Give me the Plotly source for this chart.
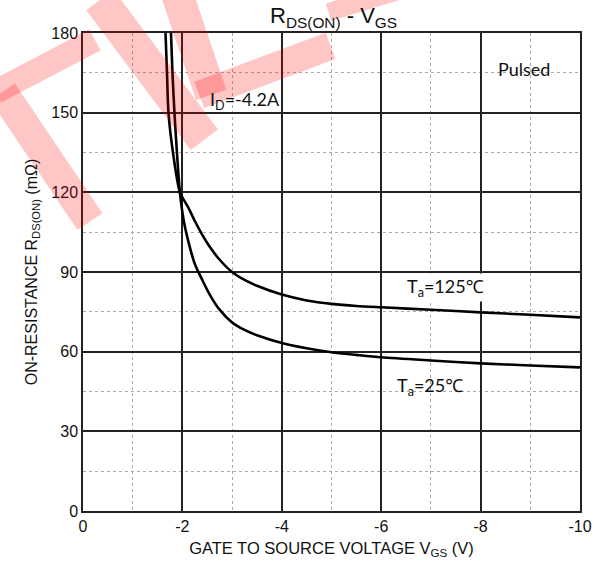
import plotly.graph_objects as go

# ---------------- data ----------------
vgs_25 = [-1.77, -1.80, -1.84, -1.89, -1.95, -2.03, -2.14, -2.25, -2.4, -2.55, -2.74, -3.0,
          -3.25, -3.5, -4.0, -4.5, -5.0, -5.5, -6.0, -7.0, -8.0, -9.0, -10.0]
r_25 = [180, 165, 150, 135, 120, 109, 100, 93, 87, 81.5, 76, 71,
        68.2, 66.2, 63.3, 61.3, 59.8, 58.8, 57.9, 56.7, 55.6, 54.8, 54.1]

vgs_125 = [-1.66, -1.69, -1.72, -1.81, -1.95, -2.05, -2.14, -2.25, -2.4, -2.55, -2.74, -3.0,
           -3.25, -3.5, -4.0, -4.5, -5.0, -5.5, -6.0, -7.0, -8.0, -9.0, -10.0]
r_125 = [180, 165, 150, 135, 120, 116.5, 113.5, 109.2, 104, 99.5, 94.8, 90,
         87, 84.8, 81.5, 79.3, 78, 77.2, 76.7, 75.8, 74.8, 73.9, 72.9]

x_ticks = [0, -2, -4, -6, -8, -10]
y_ticks = [0, 30, 60, 90, 120, 150, 180]

# ---------------- figure ----------------
L, R, T, B = 83, 21, 33, 55
W, H = 604, 567
PW, PH = W - L - R, H - T - B

fig = go.Figure()
for xs, ys in ((vgs_25, r_25), (vgs_125, r_125)):
    fig.add_trace(go.Scatter(x=xs, y=ys, mode="lines",
                             line=dict(color="black", width=2.6, shape="spline", smoothing=0.8),
                             showlegend=False, hoverinfo="skip"))

axis_font = dict(family="Liberation Sans, Arial, sans-serif", size=16, color="#111")
fig.update_xaxes(range=[0, -10], tickvals=x_ticks, ticktext=[str(v) for v in x_ticks],
                 showgrid=True, gridcolor="#222", gridwidth=1.5,
                 minor=dict(dtick=1, showgrid=True, gridcolor="#aaa", griddash="dot", gridwidth=1),
                 showline=True, linecolor="#222", linewidth=1.5, mirror=True,
                 zeroline=False, ticks="", tickfont=axis_font,
                 title=dict(text="GATE TO SOURCE VOLTAGE V<sub>GS</sub> (V)",
                            font=dict(family="Liberation Sans, Arial, sans-serif", size=16.5, color="#111"),
                            standoff=8))
fig.update_yaxes(range=[0, 180], tickvals=y_ticks,
                 showgrid=True, gridcolor="#222", gridwidth=1.5,
                 minor=dict(dtick=15, showgrid=True, gridcolor="#aaa", griddash="dot", gridwidth=1),
                 showline=True, linecolor="#222", linewidth=1.5, mirror=True,
                 zeroline=False, ticks="", tickfont=axis_font,
                 title=dict(text="ON-RESISTANCE R<sub>DS(ON)</sub> (mΩ)",
                            font=dict(family="Liberation Sans, Arial, sans-serif", size=16, color="#111"),
                            standoff=10))

# ---------------- watermark (decorative, pixel coords -> paper) ----------------
def px(xp, yp):
    return (xp - L) / PW, (H - B - yp) / PH

bands = [((-5, 92), (95, 40), 24),
         ((2, 92), (90, 222), 30),
         ((100, 0), (205, 140), 34),
         ((178, -5), (212, 95), 32),
         ((200, 95), (332, 46), 28),
         ((330, 12), (410, -12), 18)]
for (p0, p1, w) in bands:
    x0, y0 = px(*p0)
    x1, y1 = px(*p1)
    fig.add_shape(type="path", xref="paper", yref="paper",
                  path=f"M{x0},{y0} L{x1},{y1}",
                  line=dict(color="#ff0000", width=w), opacity=0.22, layer="above")

# ---------------- annotations ----------------
lab_font = dict(family="Lato, Noto Sans, sans-serif", size=18, color="#111")
fig.add_annotation(x=0.504, y=1.0, xref="paper", yref="paper", yanchor="bottom",
                   text="R<sub>DS(ON)</sub> - V<sub>GS</sub>", showarrow=False,
                   font=dict(family="Liberation Sans, Arial, sans-serif", size=22, color="#111"))
fig.add_annotation(x=-3.26, y=154.4, text="I<sub>D</sub>=-4.2A", showarrow=False,
                   font=dict(family="Lato, Noto Sans, sans-serif", size=18, color="#111"))
fig.add_annotation(x=-8.88, y=166.5, text="Pulsed", showarrow=False, font=lab_font)
fig.add_annotation(x=-7.3, y=84.2, text="T<sub>a</sub>=125℃", showarrow=False, font=lab_font,
                   bgcolor="white")
fig.add_annotation(x=-6.98, y=47.0, text="T<sub>a</sub>=25℃", showarrow=False, font=lab_font)

fig.update_layout(width=W, height=H, margin=dict(l=L, r=R, t=T, b=B),
                  paper_bgcolor="white", plot_bgcolor="white")

fig.write_html("out.html")
